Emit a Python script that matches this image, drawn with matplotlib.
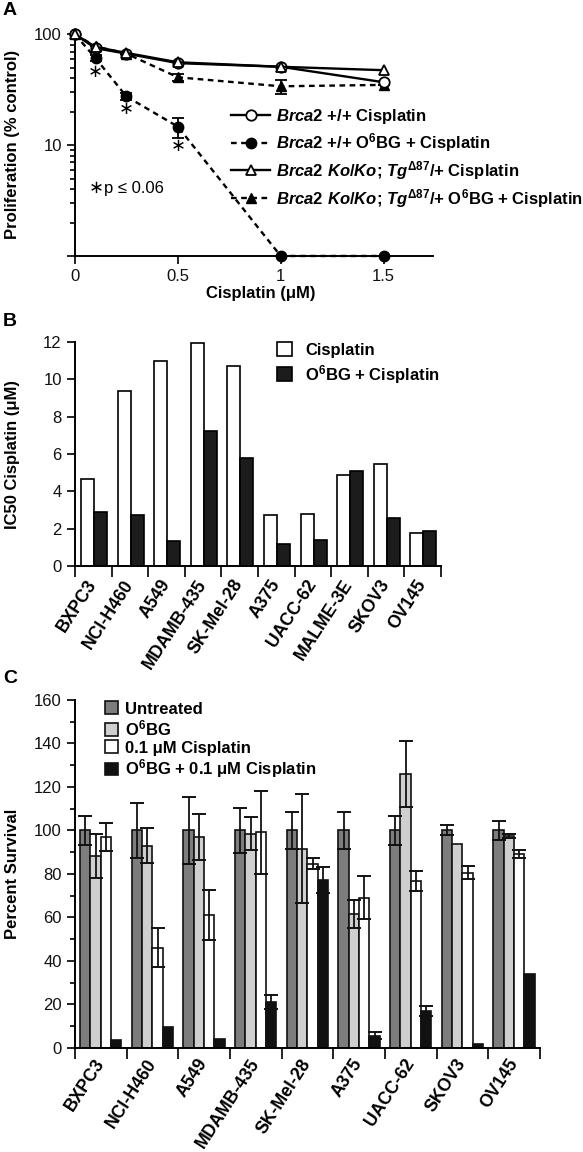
import matplotlib
matplotlib.use('Agg')
import matplotlib.pyplot as plt
import numpy as np
from matplotlib.ticker import FixedLocator, LogLocator, NullFormatter, MultipleLocator

plt.rcParams['font.family'] = ['Liberation Sans', 'DejaVu Sans']
plt.rcParams['mathtext.fontset'] = 'custom'
plt.rcParams['mathtext.rm'] = 'Liberation Sans:bold'
plt.rcParams['mathtext.it'] = 'Liberation Sans:italic:bold'
plt.rcParams['mathtext.bf'] = 'Liberation Sans:bold'
plt.rcParams['axes.linewidth'] = 1.4

# ---------------- Panel A data ----------------
doses = [0, 0.1, 0.25, 0.5, 1.0, 1.5]
wt_cis = [100, 75, 67, 55, 51, 37]
wt_o6bg_cis = [100, 61, 27.5, 14.7, 1.0, 1.0]
wt_o6bg_err = [0, 4, 2, 3, 0, 0]
ko_cis = [100, 77, 68, 56, 51, 47.5]
ko_o6bg_cis = [100, 78, 67, 41, 34, 35]
ko_o6bg_err = [0, 0, 0, 3, 5, 0]
star_doses = [0.1, 0.25, 0.5]
star_levels = [46, 21, 9.9]
labels_a = [r"$\it{Brca2}$ +/+ Cisplatin",
            r"$\it{Brca2}$ +/+ O$^{6}$BG + Cisplatin",
            r"$\it{Brca2\ Ko}$/$\it{Ko}$; $\it{Tg}^{\it{Δ87}}$/+ Cisplatin",
            r"$\it{Brca2\ Ko}$/$\it{Ko}$; $\it{Tg}^{\it{Δ87}}$/+ O$^{6}$BG + Cisplatin"]

# ---------------- Panel B data ----------------
lines_b = ['BXPC3', 'NCI-H460', 'A549', 'MDAMB-435', 'SK-Mel-28', 'A375',
           'UACC-62', 'MALME-3E', 'SKOV3', 'OV145']
ic50_cis = [4.65, 9.36, 10.98, 11.97, 10.7, 2.72, 2.81, 4.85, 5.49, 1.75]
ic50_o6bg_cis = [2.88, 2.74, 1.32, 7.24, 5.78, 1.18, 1.38, 5.1, 2.56, 1.9]
labels_b = ['Cisplatin', r'O$^{6}$BG + Cisplatin']

# ---------------- Panel C data ----------------
lines_c = ['BXPC3', 'NCI-H460', 'A549', 'MDAMB-435', 'SK-Mel-28', 'A375',
           'UACC-62', 'SKOV3', 'OV145']
surv_untreated = [100, 100, 100, 100, 100, 100, 100, 100, 100]
err_untreated = [6.5, 12.7, 15.3, 10.5, 8.4, 8.4, 6.7, 2.3, 4.3]
surv_o6bg = [88.2, 93, 96.9, 98.5, 91.7, 61.6, 126, 93.9, 97.4]
err_o6bg = [10, 8, 10.7, 7.6, 25, 6.3, 15, 0, 0.8]
surv_cis = [97.1, 46, 61, 99.1, 84.7, 69.1, 76.8, 80.6, 89.3]
err_cis = [6.5, 9, 11.5, 19, 2.6, 10, 4.5, 3, 1.8]
surv_combo = [3.5, 9.8, 4.1, 21, 77.1, 5.7, 17.1, 2, 33.8]
err_combo = [0, 0, 0, 3.2, 6, 1.8, 2.3, 0, 0]
labels_c = ['Untreated', r'O$^{6}$BG', '0.1 μM Cisplatin', r'O$^{6}$BG + 0.1 μM Cisplatin']
colors_c = ['#7d7d7d', '#cfcfcf', '#ffffff', '#111111']

FS = 12
LFS = 12.7

fig = plt.figure(figsize=(5.83, 11.52), dpi=100)


def style_axes(ax):
    for s in ['top', 'right']:
        ax.spines[s].set_visible(False)
    ax.tick_params(axis='both', which='major', direction='out', length=6, width=1.3,
                   labelsize=FS, colors='#111111')
    ax.tick_params(axis='both', which='minor', direction='out', length=3.5, width=1.2,
                   labelsize=FS)


def category_labels(ax, positions, names, pad):
    ax.set_xticks(positions, minor=True)
    ax.set_xticklabels(names, minor=True)
    ax.tick_params(axis='x', which='major', length=8)
    ax.tick_params(axis='x', which='minor', length=0, pad=pad, labelsize=LFS)
    for t in ax.get_xticklabels(minor=True):
        t.set_rotation(57)
        t.set_ha('right')
        t.set_va('center')
        t.set_rotation_mode('anchor')
        t.set_fontweight('bold')
        t.set_fontsize(LFS)


# ================= Panel A =================
axA = fig.add_axes([0.1286, 0.7778, 0.614, 0.1944])
style_axes(axA)
axA.set_yscale('log')
axA.set_xlim(0, 1.74)
axA.set_ylim(1, 105)
dash = (2.4, 1.9)
lw = 1.7
ms = 7.5
axA.errorbar(doses, wt_o6bg_cis, yerr=wt_o6bg_err, fmt='none', ecolor='black',
             elinewidth=1.3, capsize=4, capthick=1.3, zorder=3)
axA.errorbar(doses, ko_o6bg_cis, yerr=ko_o6bg_err, fmt='none', ecolor='black',
             elinewidth=1.3, capsize=4, capthick=1.3, zorder=3)
hB, = axA.plot(doses, wt_o6bg_cis, color='black', lw=lw, dashes=dash, marker='o', ms=ms,
               mfc='black', mec='black', clip_on=False, zorder=4)
hD, = axA.plot(doses, ko_o6bg_cis, color='black', lw=lw, dashes=dash, marker='^', ms=ms,
               mfc='black', mec='black', clip_on=False, zorder=5)
hA, = axA.plot(doses, wt_cis, color='black', lw=lw, marker='o', ms=ms, mfc='white',
               mec='black', mew=1.3, clip_on=False, zorder=6)
hC, = axA.plot(doses, ko_cis, color='black', lw=lw, marker='^', ms=ms, mfc='white',
               mec='black', mew=1.3, clip_on=False, zorder=7)
for xd, yl in zip(star_doses, star_levels):
    axA.text(xd, yl, '∗', ha='center', va='center', fontsize=13, family='DejaVu Sans')
axA.text(0.105, 4.1, '∗', ha='center', va='center', fontsize=13, family='DejaVu Sans')
axA.text(0.14, 4.1, 'p ≤ 0.06', ha='left', va='center', fontsize=FS)

axA.yaxis.set_major_locator(FixedLocator([1, 10, 100]))
axA.set_yticklabels(['', '10', '100'])
axA.yaxis.set_minor_locator(LogLocator(base=10, subs=np.arange(2, 10)))
axA.yaxis.set_minor_formatter(NullFormatter())
axA.set_xticks([0, 0.5, 1, 1.5])
axA.set_xticklabels(['0', '0.5', '1', '1.5'])
axA.set_ylabel('Proliferation (% control)', fontsize=FS, fontweight='bold')
axA.set_xlabel('Cisplatin (μM)', fontsize=FS, fontweight='bold')
axA.yaxis.set_label_coords(-0.154, 0.5)
axA.xaxis.set_label_coords(0.52, -0.135)
axA.legend([hA, hB, hC, hD], labels_a, loc='upper left', bbox_to_anchor=(0.436, 0.665),
           frameon=False, prop={'weight': 'bold', 'size': FS},
           handlelength=2.35, handletextpad=0.35, labelspacing=0.3, borderpad=0,
           borderaxespad=0)

# ================= Panel B =================
axB = fig.add_axes([0.1286, 0.5087, 0.6278, 0.1944])
style_axes(axB)
xb = np.arange(len(lines_b))
bw = 0.356
b1 = axB.bar(xb - 0.159, ic50_cis, bw, color='white', edgecolor='black', linewidth=1.2)
b2 = axB.bar(xb + 0.197, ic50_o6bg_cis, bw, color='#1c1c1c', edgecolor='black', linewidth=1.2)
axB.set_xlim(-0.5, len(lines_b) - 0.5)
axB.set_ylim(0, 12)
axB.set_yticks(np.arange(0, 13, 2))
axB.set_xticks(np.arange(-0.5, len(lines_b), 1))
axB.set_xticklabels([])
category_labels(axB, xb, lines_b, 11)
axB.set_ylabel('IC50 Cisplatin (μM)', fontsize=FS, fontweight='bold')
axB.yaxis.set_label_coords(-0.150, 0.5)
axB.legend([b1, b2], labels_b, loc='upper left', bbox_to_anchor=(0.552, 1.0), frameon=False,
           prop={'weight': 'bold', 'size': FS}, handlelength=0.9, handleheight=0.9,
           handletextpad=0.8, labelspacing=0.3, borderpad=0, borderaxespad=0)

# ================= Panel C =================
axC = fig.add_axes([0.1286, 0.0903, 0.7976, 0.3021])
style_axes(axC)
xc = np.arange(len(lines_c))
cw = 0.2
series_c = [(surv_untreated, err_untreated), (surv_o6bg, err_o6bg),
            (surv_cis, err_cis), (surv_combo, err_combo)]
offsets = [-0.3, -0.1, 0.1, 0.3]
handles_c = []
for (vals, errs), off, col in zip(series_c, offsets, colors_c):
    h = axC.bar(xc + off, vals, cw, color=col, edgecolor='#111111', linewidth=1.2, zorder=2)
    handles_c.append(h)
    e = np.array(errs, dtype=float)
    m = e > 0
    axC.errorbar((xc + off)[m], np.array(vals)[m], yerr=e[m], fmt='none', ecolor='#111111',
                 elinewidth=1.3, capsize=5, capthick=1.4, zorder=3)
axC.set_xlim(-0.5, len(lines_c) - 0.5)
axC.set_ylim(0, 160)
axC.yaxis.set_major_locator(MultipleLocator(20))
axC.yaxis.set_minor_locator(MultipleLocator(10))
axC.set_xticks(np.arange(-0.5, len(lines_c), 1))
axC.set_xticklabels([])
category_labels(axC, xc, lines_c, 9)
axC.set_ylabel('Percent Survival', fontsize=FS, fontweight='bold')
axC.yaxis.set_label_coords(-0.118, 0.5)
axC.legend(handles_c, labels_c, loc='upper left', bbox_to_anchor=(0.0645, 0.996),
           frameon=False, prop={'weight': 'bold', 'size': FS}, handlelength=0.8,
           handleheight=0.8, handletextpad=0.42, labelspacing=0.12, borderpad=0,
           borderaxespad=0)

# Panel letters
fig.text(0.005, 0.998, 'A', fontsize=14, fontweight='bold', va='top', ha='left')
fig.text(0.005, 0.728, 'B', fontsize=14, fontweight='bold', va='top', ha='left')
fig.text(0.005, 0.418, 'C', fontsize=14, fontweight='bold', va='top', ha='left')

fig.savefig('out.png', dpi=100)
